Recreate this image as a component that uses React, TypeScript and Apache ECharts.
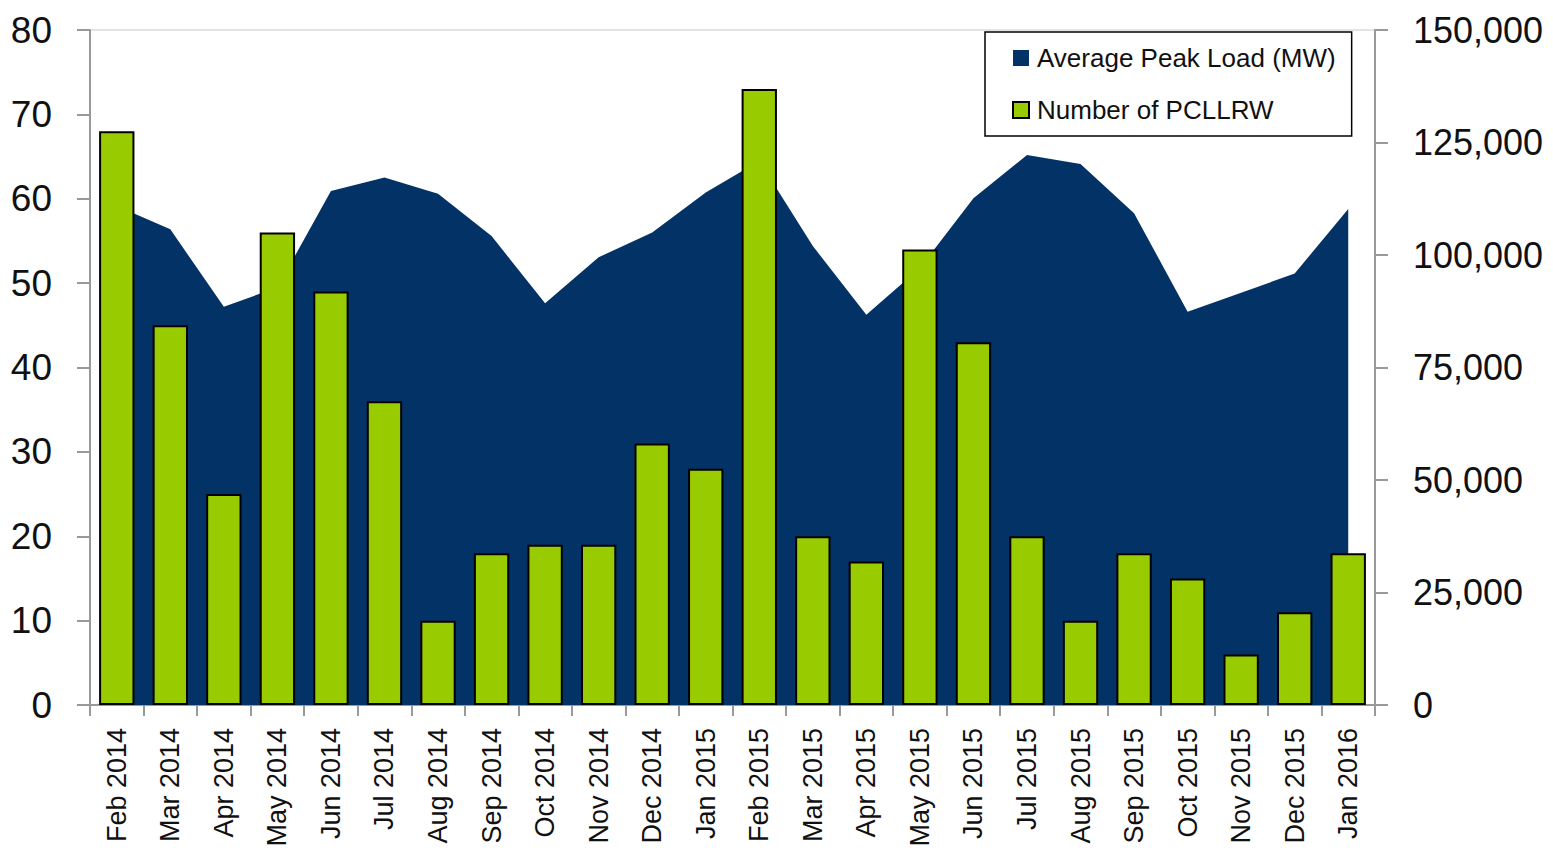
import React, { useEffect, useRef } from "react";
import * as echarts from "echarts";

const categories = [
  "Feb 2014", "Mar 2014", "Apr 2014", "May 2014", "Jun 2014", "Jul 2014",
  "Aug 2014", "Sep 2014", "Oct 2014", "Nov 2014", "Dec 2014", "Jan 2015",
  "Feb 2015", "Mar 2015", "Apr 2015", "May 2015", "Jun 2015", "Jul 2015",
  "Aug 2015", "Sep 2015", "Oct 2015", "Nov 2015", "Dec 2015", "Jan 2016",
];

const averagePeakLoad = [
  110900, 105700, 88500, 92800, 114200, 117200, 113600, 104200, 89300, 99500,
  105000, 113900, 120900, 102000, 86700, 97100, 112600, 122200, 120200, 109300,
  87400, 91600, 95900, 110200,
];

const numberOfPCLLRW = [
  68, 45, 25, 56, 49, 36, 10, 18, 19, 19, 31, 28, 73, 20, 17, 54, 43, 20, 10,
  18, 15, 6, 11, 18,
];

const FONT = "'Liberation Sans', Arial, sans-serif";
const NAVY = "#033366";
const GREEN = "#99cc00";
const AXIS = "#999999";

export default function App() {
  const ref = useRef<HTMLDivElement>(null);

  useEffect(() => {
    if (!ref.current) return;
    const chart = echarts.init(ref.current, null, { renderer: "svg" });
    chart.setOption({
      animation: false,
      backgroundColor: "#ffffff",
      textStyle: { fontFamily: FONT },
      grid: {
        left: 90,
        right: 178,
        top: 30,
        bottom: 148,
        containLabel: false,
        outerBoundsMode: "none",
        show: true,
        borderColor: "#c8c8c8",
        borderWidth: 1,
        backgroundColor: "transparent",
      },
      legend: {
        orient: "vertical",
        left: 985,
        top: 32,
        padding: [11, 16, 11, 27],
        backgroundColor: "#ffffff",
        borderColor: "#000000",
        borderWidth: 1.5,
        borderRadius: 0,
        itemWidth: 16,
        itemHeight: 16,
        itemGap: 22,
        textStyle: { fontFamily: FONT, fontSize: 26, color: "#111111", lineHeight: 30, padding: [0, 0, 0, 3] },
        data: [
          { name: "Average Peak Load (MW)", icon: "rect" },
          { name: "Number of PCLLRW", icon: "rect" },
        ],
      },
      xAxis: {
        type: "category",
        data: categories,
        boundaryGap: true,
        axisLine: { show: true, lineStyle: { color: AXIS, width: 2 } },
        axisTick: { show: true, interval: 0, length: 11, lineStyle: { color: AXIS, width: 2 } },
        axisLabel: {
          interval: 0,
          rotate: 90,
          margin: 23,
          fontSize: 27,
          color: "#111111",
          fontFamily: FONT,
        },
        splitLine: { show: false },
      },
      yAxis: [
        {
          type: "value",
          min: 0,
          max: 80,
          interval: 10,
          position: "left",
          axisLine: { show: true, lineStyle: { color: AXIS, width: 2 } },
          axisTick: { show: true, length: 13, lineStyle: { color: AXIS, width: 2 } },
          axisLabel: { fontSize: 37, margin: 38, color: "#111111", fontFamily: FONT },
          splitLine: { show: false },
        },
        {
          type: "value",
          min: 0,
          max: 150000,
          interval: 25000,
          position: "right",
          axisLine: { show: true, lineStyle: { color: AXIS, width: 2 } },
          axisTick: { show: true, length: 13, lineStyle: { color: AXIS, width: 2 } },
          axisLabel: {
            fontSize: 36,
            margin: 38,
            color: "#111111",
            fontFamily: FONT,
            formatter: (v: number) => v.toLocaleString("en-US"),
          },
          splitLine: { show: false },
        },
      ],
      series: [
        {
          name: "Average Peak Load (MW)",
          type: "line",
          yAxisIndex: 1,
          data: averagePeakLoad,
          showSymbol: false,
          symbol: "none",
          lineStyle: { width: 0, color: NAVY },
          itemStyle: { color: NAVY },
          areaStyle: { color: NAVY, opacity: 1 },
          z: 1,
        },
        {
          name: "Number of PCLLRW",
          type: "bar",
          yAxisIndex: 0,
          data: numberOfPCLLRW,
          barWidth: "66%",
          itemStyle: { color: GREEN, borderColor: "#000000", borderWidth: 2 },
          z: 2,
        },
      ],
    });
    return () => chart.dispose();
  }, []);

  return (
    <div
      ref={ref}
      style={{ position: "fixed", left: 0, top: 0, width: 1553, height: 853 }}
    />
  );
}
